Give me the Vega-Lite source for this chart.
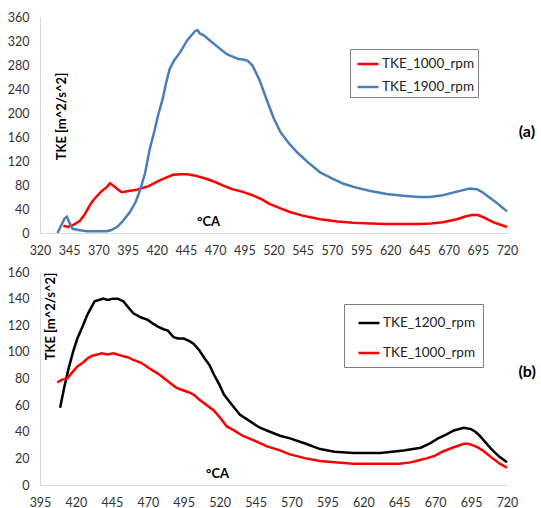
{
  "$schema": "https://vega.github.io/schema/vega-lite/v6.json",
  "padding": {"top": 11, "left": 7, "right": 0, "bottom": 0},
  "spacing": 9,
  "config": {
    "view": {"stroke": null},
    "font": "Lato",
    "axis": {"grid": false, "ticks": false, "domainColor": "#d9d9d9", "domainWidth": 1, "labelColor": "#333333", "labelFontSize": 12.5, "labelPadding": 11, "labelOverlap": false, "labelBound": false, "titleFontWeight": "bold", "titleFontSize": 13, "titleColor": "#000000"},
    "legend": {"labelFontSize": 13.5, "labelColor": "#222222"},
    "line": {"strokeWidth": 2.5}
  },
  "datasets": {
    "a": [
      {"s": "TKE_1000_rpm", "ca": 340, "tke": 12}, {"s": "TKE_1000_rpm", "ca": 344, "tke": 10}, {"s": "TKE_1000_rpm", "ca": 349, "tke": 14}, {"s": "TKE_1000_rpm", "ca": 354, "tke": 20}, {"s": "TKE_1000_rpm", "ca": 358, "tke": 30}, {"s": "TKE_1000_rpm", "ca": 362, "tke": 44}, {"s": "TKE_1000_rpm", "ca": 365, "tke": 53}, {"s": "TKE_1000_rpm", "ca": 369, "tke": 62}, {"s": "TKE_1000_rpm", "ca": 373, "tke": 70}, {"s": "TKE_1000_rpm", "ca": 377, "tke": 76}, {"s": "TKE_1000_rpm", "ca": 380, "tke": 83}, {"s": "TKE_1000_rpm", "ca": 384, "tke": 77}, {"s": "TKE_1000_rpm", "ca": 387, "tke": 72}, {"s": "TKE_1000_rpm", "ca": 390, "tke": 68}, {"s": "TKE_1000_rpm", "ca": 396, "tke": 70}, {"s": "TKE_1000_rpm", "ca": 403, "tke": 72}, {"s": "TKE_1000_rpm", "ca": 413, "tke": 78}, {"s": "TKE_1000_rpm", "ca": 423, "tke": 88}, {"s": "TKE_1000_rpm", "ca": 429, "tke": 93}, {"s": "TKE_1000_rpm", "ca": 434, "tke": 97}, {"s": "TKE_1000_rpm", "ca": 440, "tke": 98}, {"s": "TKE_1000_rpm", "ca": 446, "tke": 98}, {"s": "TKE_1000_rpm", "ca": 452, "tke": 96}, {"s": "TKE_1000_rpm", "ca": 458, "tke": 93}, {"s": "TKE_1000_rpm", "ca": 463, "tke": 90}, {"s": "TKE_1000_rpm", "ca": 470, "tke": 85}, {"s": "TKE_1000_rpm", "ca": 477, "tke": 79}, {"s": "TKE_1000_rpm", "ca": 485, "tke": 73}, {"s": "TKE_1000_rpm", "ca": 493, "tke": 69}, {"s": "TKE_1000_rpm", "ca": 502, "tke": 63}, {"s": "TKE_1000_rpm", "ca": 510, "tke": 56}, {"s": "TKE_1000_rpm", "ca": 517, "tke": 48}, {"s": "TKE_1000_rpm", "ca": 526, "tke": 41}, {"s": "TKE_1000_rpm", "ca": 534, "tke": 35}, {"s": "TKE_1000_rpm", "ca": 545, "tke": 29}, {"s": "TKE_1000_rpm", "ca": 560, "tke": 23}, {"s": "TKE_1000_rpm", "ca": 575, "tke": 19}, {"s": "TKE_1000_rpm", "ca": 588, "tke": 17}, {"s": "TKE_1000_rpm", "ca": 603, "tke": 16}, {"s": "TKE_1000_rpm", "ca": 617, "tke": 15}, {"s": "TKE_1000_rpm", "ca": 631, "tke": 15}, {"s": "TKE_1000_rpm", "ca": 645, "tke": 15}, {"s": "TKE_1000_rpm", "ca": 655, "tke": 16}, {"s": "TKE_1000_rpm", "ca": 665, "tke": 18}, {"s": "TKE_1000_rpm", "ca": 677, "tke": 23}, {"s": "TKE_1000_rpm", "ca": 685, "tke": 28}, {"s": "TKE_1000_rpm", "ca": 690, "tke": 30}, {"s": "TKE_1000_rpm", "ca": 695, "tke": 30}, {"s": "TKE_1000_rpm", "ca": 700, "tke": 26}, {"s": "TKE_1000_rpm", "ca": 708, "tke": 18}, {"s": "TKE_1000_rpm", "ca": 720, "tke": 10},
      {"s": "TKE_1900_rpm", "ca": 335, "tke": 0}, {"s": "TKE_1900_rpm", "ca": 338, "tke": 12}, {"s": "TKE_1900_rpm", "ca": 341, "tke": 24}, {"s": "TKE_1900_rpm", "ca": 343, "tke": 27}, {"s": "TKE_1900_rpm", "ca": 345, "tke": 18}, {"s": "TKE_1900_rpm", "ca": 348, "tke": 7}, {"s": "TKE_1900_rpm", "ca": 353, "tke": 5}, {"s": "TKE_1900_rpm", "ca": 360, "tke": 3}, {"s": "TKE_1900_rpm", "ca": 366, "tke": 3}, {"s": "TKE_1900_rpm", "ca": 372, "tke": 3}, {"s": "TKE_1900_rpm", "ca": 377, "tke": 3}, {"s": "TKE_1900_rpm", "ca": 381, "tke": 5}, {"s": "TKE_1900_rpm", "ca": 386, "tke": 10}, {"s": "TKE_1900_rpm", "ca": 391, "tke": 20}, {"s": "TKE_1900_rpm", "ca": 397, "tke": 35}, {"s": "TKE_1900_rpm", "ca": 402, "tke": 52}, {"s": "TKE_1900_rpm", "ca": 406, "tke": 73}, {"s": "TKE_1900_rpm", "ca": 410, "tke": 100}, {"s": "TKE_1900_rpm", "ca": 414, "tke": 140}, {"s": "TKE_1900_rpm", "ca": 418, "tke": 170}, {"s": "TKE_1900_rpm", "ca": 421, "tke": 195}, {"s": "TKE_1900_rpm", "ca": 425, "tke": 223}, {"s": "TKE_1900_rpm", "ca": 428, "tke": 250}, {"s": "TKE_1900_rpm", "ca": 431, "tke": 273}, {"s": "TKE_1900_rpm", "ca": 435, "tke": 288}, {"s": "TKE_1900_rpm", "ca": 440, "tke": 301}, {"s": "TKE_1900_rpm", "ca": 446, "tke": 321}, {"s": "TKE_1900_rpm", "ca": 450, "tke": 330}, {"s": "TKE_1900_rpm", "ca": 453, "tke": 337}, {"s": "TKE_1900_rpm", "ca": 455, "tke": 338}, {"s": "TKE_1900_rpm", "ca": 457, "tke": 332}, {"s": "TKE_1900_rpm", "ca": 460, "tke": 330}, {"s": "TKE_1900_rpm", "ca": 466, "tke": 320}, {"s": "TKE_1900_rpm", "ca": 473, "tke": 309}, {"s": "TKE_1900_rpm", "ca": 480, "tke": 298}, {"s": "TKE_1900_rpm", "ca": 486, "tke": 293}, {"s": "TKE_1900_rpm", "ca": 490, "tke": 290}, {"s": "TKE_1900_rpm", "ca": 494, "tke": 289}, {"s": "TKE_1900_rpm", "ca": 498, "tke": 287}, {"s": "TKE_1900_rpm", "ca": 502, "tke": 279}, {"s": "TKE_1900_rpm", "ca": 508, "tke": 255}, {"s": "TKE_1900_rpm", "ca": 514, "tke": 223}, {"s": "TKE_1900_rpm", "ca": 520, "tke": 192}, {"s": "TKE_1900_rpm", "ca": 526, "tke": 168}, {"s": "TKE_1900_rpm", "ca": 533, "tke": 150}, {"s": "TKE_1900_rpm", "ca": 540, "tke": 135}, {"s": "TKE_1900_rpm", "ca": 550, "tke": 117}, {"s": "TKE_1900_rpm", "ca": 560, "tke": 101}, {"s": "TKE_1900_rpm", "ca": 570, "tke": 91}, {"s": "TKE_1900_rpm", "ca": 580, "tke": 82}, {"s": "TKE_1900_rpm", "ca": 590, "tke": 76}, {"s": "TKE_1900_rpm", "ca": 603, "tke": 70}, {"s": "TKE_1900_rpm", "ca": 617, "tke": 65}, {"s": "TKE_1900_rpm", "ca": 631, "tke": 62}, {"s": "TKE_1900_rpm", "ca": 645, "tke": 60}, {"s": "TKE_1900_rpm", "ca": 654, "tke": 60}, {"s": "TKE_1900_rpm", "ca": 665, "tke": 63}, {"s": "TKE_1900_rpm", "ca": 677, "tke": 69}, {"s": "TKE_1900_rpm", "ca": 688, "tke": 74}, {"s": "TKE_1900_rpm", "ca": 694, "tke": 73}, {"s": "TKE_1900_rpm", "ca": 698, "tke": 69}, {"s": "TKE_1900_rpm", "ca": 703, "tke": 62}, {"s": "TKE_1900_rpm", "ca": 710, "tke": 52}, {"s": "TKE_1900_rpm", "ca": 720, "tke": 36}
    ],
    "b": [
      {"s": "TKE_1200_rpm", "ca": 409, "tke": 58}, {"s": "TKE_1200_rpm", "ca": 412, "tke": 74}, {"s": "TKE_1200_rpm", "ca": 415, "tke": 88}, {"s": "TKE_1200_rpm", "ca": 418, "tke": 100}, {"s": "TKE_1200_rpm", "ca": 421, "tke": 110}, {"s": "TKE_1200_rpm", "ca": 425, "tke": 120}, {"s": "TKE_1200_rpm", "ca": 428, "tke": 128}, {"s": "TKE_1200_rpm", "ca": 431, "tke": 134}, {"s": "TKE_1200_rpm", "ca": 433, "tke": 138}, {"s": "TKE_1200_rpm", "ca": 436, "tke": 139}, {"s": "TKE_1200_rpm", "ca": 439, "tke": 140}, {"s": "TKE_1200_rpm", "ca": 442, "tke": 139}, {"s": "TKE_1200_rpm", "ca": 446, "tke": 140}, {"s": "TKE_1200_rpm", "ca": 449, "tke": 140}, {"s": "TKE_1200_rpm", "ca": 453, "tke": 138}, {"s": "TKE_1200_rpm", "ca": 456, "tke": 134}, {"s": "TKE_1200_rpm", "ca": 460, "tke": 129}, {"s": "TKE_1200_rpm", "ca": 465, "tke": 126}, {"s": "TKE_1200_rpm", "ca": 470, "tke": 124}, {"s": "TKE_1200_rpm", "ca": 474, "tke": 121}, {"s": "TKE_1200_rpm", "ca": 477, "tke": 119}, {"s": "TKE_1200_rpm", "ca": 481, "tke": 117}, {"s": "TKE_1200_rpm", "ca": 484, "tke": 116}, {"s": "TKE_1200_rpm", "ca": 488, "tke": 111}, {"s": "TKE_1200_rpm", "ca": 491, "tke": 110}, {"s": "TKE_1200_rpm", "ca": 495, "tke": 110}, {"s": "TKE_1200_rpm", "ca": 499, "tke": 108}, {"s": "TKE_1200_rpm", "ca": 502, "tke": 106}, {"s": "TKE_1200_rpm", "ca": 506, "tke": 101}, {"s": "TKE_1200_rpm", "ca": 509, "tke": 96}, {"s": "TKE_1200_rpm", "ca": 513, "tke": 90}, {"s": "TKE_1200_rpm", "ca": 516, "tke": 83}, {"s": "TKE_1200_rpm", "ca": 520, "tke": 75}, {"s": "TKE_1200_rpm", "ca": 523, "tke": 68}, {"s": "TKE_1200_rpm", "ca": 528, "tke": 61}, {"s": "TKE_1200_rpm", "ca": 534, "tke": 53}, {"s": "TKE_1200_rpm", "ca": 541, "tke": 48}, {"s": "TKE_1200_rpm", "ca": 548, "tke": 43}, {"s": "TKE_1200_rpm", "ca": 555, "tke": 40}, {"s": "TKE_1200_rpm", "ca": 562, "tke": 37}, {"s": "TKE_1200_rpm", "ca": 569, "tke": 35}, {"s": "TKE_1200_rpm", "ca": 580, "tke": 31}, {"s": "TKE_1200_rpm", "ca": 590, "tke": 27}, {"s": "TKE_1200_rpm", "ca": 600, "tke": 25}, {"s": "TKE_1200_rpm", "ca": 613, "tke": 24}, {"s": "TKE_1200_rpm", "ca": 632, "tke": 24}, {"s": "TKE_1200_rpm", "ca": 648, "tke": 26}, {"s": "TKE_1200_rpm", "ca": 660, "tke": 28}, {"s": "TKE_1200_rpm", "ca": 666, "tke": 31}, {"s": "TKE_1200_rpm", "ca": 672, "tke": 35}, {"s": "TKE_1200_rpm", "ca": 678, "tke": 38}, {"s": "TKE_1200_rpm", "ca": 683, "tke": 41}, {"s": "TKE_1200_rpm", "ca": 690, "tke": 43}, {"s": "TKE_1200_rpm", "ca": 695, "tke": 42}, {"s": "TKE_1200_rpm", "ca": 698, "tke": 40}, {"s": "TKE_1200_rpm", "ca": 701, "tke": 37}, {"s": "TKE_1200_rpm", "ca": 705, "tke": 32}, {"s": "TKE_1200_rpm", "ca": 710, "tke": 26}, {"s": "TKE_1200_rpm", "ca": 715, "tke": 21}, {"s": "TKE_1200_rpm", "ca": 720, "tke": 17},
      {"s": "TKE_1000_rpm", "ca": 407, "tke": 77}, {"s": "TKE_1000_rpm", "ca": 410, "tke": 79}, {"s": "TKE_1000_rpm", "ca": 414, "tke": 80}, {"s": "TKE_1000_rpm", "ca": 417, "tke": 84}, {"s": "TKE_1000_rpm", "ca": 421, "tke": 89}, {"s": "TKE_1000_rpm", "ca": 425, "tke": 92}, {"s": "TKE_1000_rpm", "ca": 428, "tke": 95}, {"s": "TKE_1000_rpm", "ca": 431, "tke": 97}, {"s": "TKE_1000_rpm", "ca": 435, "tke": 98}, {"s": "TKE_1000_rpm", "ca": 438, "tke": 99}, {"s": "TKE_1000_rpm", "ca": 442, "tke": 98}, {"s": "TKE_1000_rpm", "ca": 446, "tke": 99}, {"s": "TKE_1000_rpm", "ca": 449, "tke": 98}, {"s": "TKE_1000_rpm", "ca": 452, "tke": 97}, {"s": "TKE_1000_rpm", "ca": 456, "tke": 96}, {"s": "TKE_1000_rpm", "ca": 460, "tke": 94}, {"s": "TKE_1000_rpm", "ca": 465, "tke": 92}, {"s": "TKE_1000_rpm", "ca": 468, "tke": 90}, {"s": "TKE_1000_rpm", "ca": 472, "tke": 87}, {"s": "TKE_1000_rpm", "ca": 478, "tke": 83}, {"s": "TKE_1000_rpm", "ca": 484, "tke": 78}, {"s": "TKE_1000_rpm", "ca": 490, "tke": 73}, {"s": "TKE_1000_rpm", "ca": 495, "tke": 71}, {"s": "TKE_1000_rpm", "ca": 500, "tke": 69}, {"s": "TKE_1000_rpm", "ca": 503, "tke": 67}, {"s": "TKE_1000_rpm", "ca": 506, "tke": 64}, {"s": "TKE_1000_rpm", "ca": 511, "tke": 60}, {"s": "TKE_1000_rpm", "ca": 516, "tke": 56}, {"s": "TKE_1000_rpm", "ca": 520, "tke": 51}, {"s": "TKE_1000_rpm", "ca": 525, "tke": 44}, {"s": "TKE_1000_rpm", "ca": 530, "tke": 41}, {"s": "TKE_1000_rpm", "ca": 536, "tke": 37}, {"s": "TKE_1000_rpm", "ca": 545, "tke": 33}, {"s": "TKE_1000_rpm", "ca": 553, "tke": 29}, {"s": "TKE_1000_rpm", "ca": 562, "tke": 26}, {"s": "TKE_1000_rpm", "ca": 569, "tke": 23}, {"s": "TKE_1000_rpm", "ca": 580, "tke": 20}, {"s": "TKE_1000_rpm", "ca": 590, "tke": 18}, {"s": "TKE_1000_rpm", "ca": 600, "tke": 17}, {"s": "TKE_1000_rpm", "ca": 613, "tke": 16}, {"s": "TKE_1000_rpm", "ca": 632, "tke": 16}, {"s": "TKE_1000_rpm", "ca": 645, "tke": 16}, {"s": "TKE_1000_rpm", "ca": 653, "tke": 17}, {"s": "TKE_1000_rpm", "ca": 660, "tke": 19}, {"s": "TKE_1000_rpm", "ca": 664, "tke": 20}, {"s": "TKE_1000_rpm", "ca": 670, "tke": 22}, {"s": "TKE_1000_rpm", "ca": 675, "tke": 25}, {"s": "TKE_1000_rpm", "ca": 682, "tke": 28}, {"s": "TKE_1000_rpm", "ca": 690, "tke": 31}, {"s": "TKE_1000_rpm", "ca": 693, "tke": 31}, {"s": "TKE_1000_rpm", "ca": 696, "tke": 30}, {"s": "TKE_1000_rpm", "ca": 700, "tke": 28}, {"s": "TKE_1000_rpm", "ca": 703, "tke": 26}, {"s": "TKE_1000_rpm", "ca": 710, "tke": 20}, {"s": "TKE_1000_rpm", "ca": 715, "tke": 16}, {"s": "TKE_1000_rpm", "ca": 720, "tke": 13}
    ],
    "labA": [{"ca": 737, "tke": 168, "label": "(a)"}],
    "labB": [{"ca": 734, "tke": 85, "label": "(b)"}]
  },
  "vconcat": [
    {
      "width": 467,
      "height": 216,
      "encoding": {
        "x": {"field": "ca", "type": "quantitative", "scale": {"domain": [320, 720], "nice": false, "zero": false},
          "axis": {"values": [320, 345, 370, 395, 420, 445, 470, 495, 520, 545, 570, 595, 620, 645, 670, 695, 720], "labelOverlap": false, "labelFlush": false, "labelBound": false, "title": "°CA", "titleX": 168, "titleY": -12, "titleBaseline": "middle", "titleAnchor": "middle", "titleAlign": "center"}},
        "y": {"field": "tke", "type": "quantitative", "scale": {"domain": [0, 360], "nice": false},
          "axis": {"values": [0, 40, 80, 120, 160, 200, 240, 280, 320, 360], "labelOverlap": false, "labelFlush": false, "labelBound": false, "title": "TKE [m^2/s^2]", "titleX": 28, "titleY": 99, "titleAnchor": "middle", "titleAlign": "center"}}
      },
      "layer": [
        {
          "data": {"name": "a"},
          "mark": {"type": "line"},
          "encoding": {
            "color": {"field": "s", "type": "nominal", "scale": {"domain": ["TKE_1000_rpm", "TKE_1900_rpm"], "range": ["#ff0000", "#4a7ebb"]},
              "legend": {"title": null, "orient": "none", "legendX": 310, "legendY": 32, "symbolType": "stroke", "symbolSize": 441, "symbolStrokeWidth": 2.5, "labelOffset": 2, "padding": 3, "rowPadding": 4, "symbolOffset": 3, "strokeColor": "#808080", "fillColor": "#ffffff"}}
          }
        },
        {
          "data": {"name": "labA"},
          "mark": {"type": "text", "fontWeight": "bold", "fontSize": 16, "clip": false, "align": "center", "baseline": "middle"},
          "encoding": {
            "text": {"field": "label"}
          }
        }
      ]
    },
    {
      "width": 467,
      "height": 213,
      "encoding": {
        "x": {"field": "ca", "type": "quantitative", "scale": {"domain": [395, 720], "nice": false, "zero": false},
          "axis": {"values": [395, 420, 445, 470, 495, 520, 545, 570, 595, 620, 645, 670, 695, 720], "labelOverlap": false, "labelFlush": false, "labelBound": false, "title": "°CA", "titleX": 177, "titleY": -12, "titleBaseline": "middle", "titleAnchor": "middle", "titleAlign": "center"}},
        "y": {"field": "tke", "type": "quantitative", "scale": {"domain": [0, 160], "nice": false},
          "axis": {"tickCount": 8, "labelOverlap": false, "labelFlush": false, "labelBound": false, "title": "TKE [m^2/s^2]", "titleX": 17, "titleY": 44, "titleAnchor": "middle", "titleAlign": "center"}}
      },
      "layer": [
        {
          "data": {"name": "b"},
          "mark": {"type": "line"},
          "encoding": {
            "color": {"field": "s", "type": "nominal", "scale": {"domain": ["TKE_1200_rpm", "TKE_1000_rpm"], "range": ["#000000", "#ff0000"]},
              "legend": {"title": null, "orient": "none", "legendX": 304, "legendY": 32, "symbolType": "stroke", "symbolSize": 441, "symbolStrokeWidth": 2.5, "labelOffset": 2, "padding": 7, "rowPadding": 11, "symbolOffset": 6, "strokeColor": "#808080", "fillColor": "#ffffff"}}
          }
        },
        {
          "data": {"name": "labB"},
          "mark": {"type": "text", "fontWeight": "bold", "fontSize": 16, "clip": false, "align": "center", "baseline": "middle"},
          "encoding": {
            "text": {"field": "label"}
          }
        }
      ]
    }
  ],
  "resolve": {"scale": {"color": "independent"}}
}
